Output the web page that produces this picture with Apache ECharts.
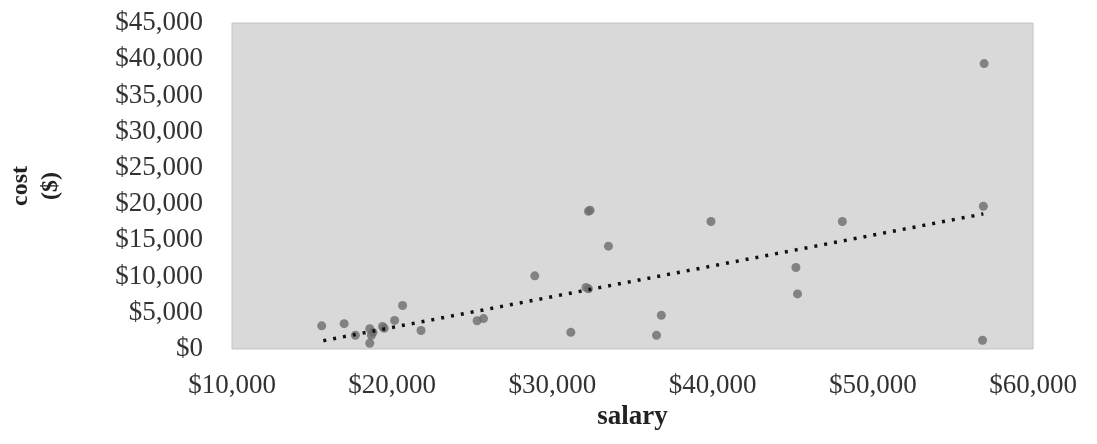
<!DOCTYPE html>
<html>
<head>
<meta charset="utf-8">
<script src="https://cdn.jsdelivr.net/npm/echarts@6/dist/echarts.min.js"></script>
<style>html,body{margin:0;padding:0;background:#fff}#c{width:1097px;height:444px}</style>
</head>
<body>
<div id="c"></div>
<script>
// salary ($) and cost ($) per observation
const salary = [15600, 17000, 17700, 18600, 18700, 18600, 18800, 19400, 19500, 20150, 20650, 21800, 25300, 25700,
  28900, 32250, 32350, 33500, 32100, 32250, 31150, 36800, 36500, 39900, 45200, 45300, 48100, 56900, 56850, 56950];
const cost = [3200, 3500, 1900, 2800, 1900, 800, 2300, 3100, 2850, 3950, 6000, 2550, 3900, 4200,
  10100, 19000, 19150, 14200, 8500, 8300, 2300, 4650, 1900, 17600, 11250, 7600, 17600, 19700, 1200, 39400];
// linear trendline endpoints
const trendSalary = [15700, 56900];
const trendCost = [1150, 18650];
const xTicks = [10000, 20000, 30000, 40000, 50000, 60000];
const yTicks = [0, 5000, 10000, 15000, 20000, 25000, 30000, 35000, 40000, 45000];

const fmt = v => '$' + v.toLocaleString('en-US');
const font = '"Liberation Serif", "Times New Roman", serif';

const chart = echarts.init(document.getElementById('c'));
chart.setOption({
  animation: false,
  grid: {left: 232, right: 64, top: 23, bottom: 95, outerBoundsMode: 'none', containLabel: false,
    show: true, backgroundColor: '#d9d9d9', borderColor: '#c4c4c4', borderWidth: 1},
  xAxis: {
    type: 'value', min: xTicks[0], max: xTicks[xTicks.length - 1], interval: 10000,
    name: 'salary', nameLocation: 'middle', nameGap: 52,
    nameTextStyle: {fontFamily: font, fontSize: 27, fontWeight: 'bold', color: '#222'},
    axisLine: {show: false}, axisTick: {show: false}, splitLine: {show: false},
    axisLabel: {formatter: fmt, fontFamily: font, fontSize: 27, color: '#333', margin: 23}
  },
  yAxis: {
    type: 'value', min: yTicks[0], max: yTicks[yTicks.length - 1], interval: 5000,
    name: 'cost\n($)', nameLocation: 'middle', nameGap: 166, nameRotate: 90,
    nameTextStyle: {fontFamily: font, fontSize: 24, fontWeight: 'bold', color: '#222', lineHeight: 30},
    axisLine: {show: false}, axisTick: {show: false}, splitLine: {show: false},
    axisLabel: {formatter: fmt, fontFamily: font, fontSize: 27, color: '#333', margin: 29}
  },
  series: [
    {
      type: 'scatter', symbol: 'circle', symbolSize: 9,
      itemStyle: {color: '#6b6b6b'},
      data: salary.map((s, i) => [s, cost[i]]),
      z: 2
    },
    {
      type: 'line', symbol: 'none',
      lineStyle: {color: '#111', width: 3.5, type: [3, 7]},
      data: trendSalary.map((s, i) => [s, trendCost[i]]),
      z: 3
    }
  ]
});
</script>
</body>
</html>
